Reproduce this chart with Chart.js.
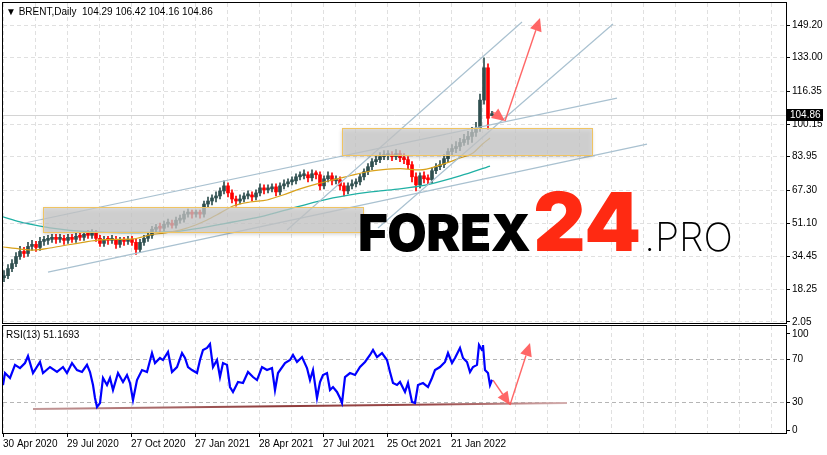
<!DOCTYPE html>
<html>
<head>
<meta charset="utf-8">
<script src="https://cdn.jsdelivr.net/npm/chart.js@4.4.0/dist/chart.umd.min.js"></script>
<style>
html,body{margin:0;padding:0;background:#fff;width:827px;height:455px;overflow:hidden;}
#wrap{position:relative;width:827px;height:455px;}
#main{position:absolute;left:0;top:0;}
#rsi{position:absolute;left:0;top:324px;}
.lbl{position:absolute;font-family:"Liberation Sans",Arial,sans-serif;font-size:10px;color:#000;white-space:pre;line-height:12px;}
#logo{position:absolute;left:358px;top:182px;display:flex;align-items:baseline;line-height:1;white-space:nowrap;}
#logo span{font-family:Inter,Lato,"Noto Sans",sans-serif;}
</style>
</head>
<body>
<div id="wrap">
  <canvas id="main" width="827" height="326" style="width:827px;height:326px"></canvas>
  <canvas id="rsi" width="827" height="131" style="width:827px;height:131px"></canvas>
  <div class="lbl" id="hdr" style="left:6px;top:6px"></div>
  <div class="lbl" id="rsiLbl" style="left:6px;top:329px"></div>
  <div id="logo">
    <span style="font-weight:900;font-size:51px;color:#000;letter-spacing:-0.5px">FOREX</span>
    <span style="font-weight:900;font-size:81px;color:#ff2a12;margin-left:3px">24</span>
    <span style="font-weight:200;font-size:39px;color:#000;margin-left:3px">.PRO</span>
  </div>
</div>
<script>
// ---------------- DATA ----------------
const symbolName = 'BRENT,Daily';
const dateLabels = ['30 Apr 2020','29 Jul 2020','27 Oct 2020','27 Jan 2021','28 Apr 2021','27 Jul 2021','25 Oct 2021','21 Jan 2022'];
const priceTicks = [2.05,18.25,34.45,51.10,67.30,83.95,100.15,116.35,133.00,149.20];
const rsiTickLabels = ['0','30','70','100'];

// candles (each candle = 4 trading days)
const opens = [24.0,25.0,28.5,31.0,34.5,37.0,36.0,39.5,40.5,39.0,
42.0,42.5,43.0,44.0,43.0,43.5,42.5,44.0,43.0,44.5,
44.0,45.5,45.0,46.0,43.5,41.0,43.0,42.5,43.0,40.5,
42.5,42.0,43.0,41.5,38.0,41.5,43.5,45.0,48.0,49.0,
48.5,50.5,51.0,50.0,52.5,53.0,55.5,56.0,55.5,56.0,
55.5,60.5,62.0,63.5,64.5,67.0,69.5,66.0,63.0,62.0,
63.0,64.5,65.0,64.0,66.0,68.5,67.5,68.0,69.0,66.5,
69.5,70.5,71.5,72.0,74.0,74.5,75.0,73.5,75.5,75.0,
69.5,73.0,74.5,72.0,72.5,69.5,67.0,69.5,70.5,71.5,
74.0,76.5,79.0,81.5,82.5,84.0,84.5,85.0,84.0,85.5,
83.5,82.5,80.0,74.0,70.0,74.5,73.0,72.5,77.0,79.0,
80.0,83.0,86.5,88.0,89.0,91.0,92.5,94.0,96.0,98.0,
112.0,128.0,104.29];
const highs = [27.5,30.5,33.0,36.5,39.5,39.0,41.5,42.5,42.0,44.0,
44.5,45.0,45.5,45.5,45.5,45.0,45.5,45.5,46.0,46.0,
47.0,47.5,47.8,47.5,45.0,44.5,44.5,45.0,44.5,44.0,
44.0,44.5,44.5,43.0,43.0,45.0,46.5,49.5,50.5,51.0,
52.0,53.0,52.5,54.0,55.0,57.0,58.0,57.5,57.5,57.5,
62.0,64.0,65.0,66.5,68.5,72.0,71.0,67.5,64.5,65.0,
66.0,67.0,66.5,67.5,70.5,70.0,70.0,70.5,70.5,71.0,
72.5,73.0,74.0,75.5,76.5,77.5,76.5,77.5,77.0,76.5,
74.5,76.5,76.0,74.5,74.0,71.0,71.0,72.5,73.0,75.5,
78.0,80.5,83.0,84.5,86.0,87.0,87.0,86.5,87.5,87.0,
85.5,84.0,81.5,76.0,76.0,76.5,75.0,78.5,80.5,82.0,
85.0,88.0,90.0,91.5,93.0,95.0,96.5,98.5,101.0,115.0,
133.0,130.0,106.42];
const lows = [22.0,23.5,27.0,29.5,33.0,34.0,34.5,37.5,37.0,37.5,
40.0,40.5,41.5,41.0,41.5,40.5,41.0,41.5,41.5,42.5,
42.5,43.5,43.5,42.0,39.5,39.5,40.5,41.0,38.5,39.0,
40.0,40.5,40.0,35.5,36.5,40.0,42.0,43.5,46.5,46.5,
47.0,49.0,48.5,48.5,51.0,51.5,54.0,53.5,54.0,53.5,
54.0,59.0,60.0,61.5,63.0,65.5,64.0,61.0,59.5,60.5,
61.5,63.0,62.0,62.5,64.5,65.5,66.0,66.5,64.5,65.0,
68.0,69.0,70.0,70.5,72.5,73.0,71.5,72.0,73.0,67.5,
68.0,71.5,70.0,70.5,67.5,64.5,65.5,68.0,69.0,70.0,
72.5,75.0,77.5,80.0,81.0,82.5,82.5,82.0,82.5,81.5,
80.5,78.0,71.5,67.0,68.5,71.0,70.5,71.0,75.5,77.5,
78.5,81.5,85.0,86.0,87.0,89.5,90.0,91.0,94.0,96.5,
110.0,97.5,104.16];
const closes = [25.0,28.5,31.0,34.5,37.0,36.0,39.5,40.5,39.0,42.0,
42.5,43.0,44.0,43.0,43.5,42.5,44.0,43.0,44.5,44.0,
45.5,45.0,46.0,43.5,41.0,43.0,42.5,43.0,40.5,42.5,
42.0,43.0,41.5,38.0,41.5,43.5,45.0,48.0,49.0,48.5,
50.5,51.0,50.0,52.5,53.0,55.5,56.0,55.5,56.0,55.5,
60.5,62.0,63.5,64.5,67.0,69.5,66.0,63.0,62.0,63.0,
64.5,65.0,64.0,66.0,68.5,67.5,68.0,69.0,66.5,69.5,
70.5,71.5,72.0,74.0,74.5,75.0,73.5,75.5,75.0,69.5,
73.0,74.5,72.0,72.5,69.5,67.0,69.5,70.5,71.5,74.0,
76.5,79.0,81.5,82.5,84.0,84.5,85.0,84.0,85.5,83.5,
82.5,80.0,74.0,70.0,74.5,73.0,72.5,77.0,79.0,80.0,
83.0,86.5,88.0,89.0,91.0,92.5,94.0,96.0,98.0,112.0,
128.0,103.0,104.86];

// moving averages (day index, value)
const fastMaIdx = [0,17,30,47,64,80,97,114,130,147,162,177,192,204,217,230,247,264,280,297,314,330,347,364,380,397,417,437,457,470,479,487];
const fastMaVal = [39.2,38.2,37.7,38.7,40.2,41.5,42.7,43.0,43.2,45.2,46.2,47.6,50.0,52.6,56.0,59.5,61.5,62.5,65.0,68.0,70.5,72.5,74.5,76.5,77.5,78.0,77.4,79.8,83.3,85.8,90.0,93.2];
const slowMaIdx = [0,17,37,57,77,97,127,157,177,197,230,257,297,330,364,377,397,427,457,487];
const slowMaVal = [54.1,51.6,49.6,48.1,47.1,46.6,46.4,46.6,47.1,48.6,51.6,54.1,59.5,63.5,66.3,67.0,68.0,70.4,74.4,79.3];

// RSI(13) (day index, value)
const rsiIdx = [0,2,7,12,17,22,25,30,37,40,47,54,60,64,69,74,79,84,87,90,
92,94,97,100,104,107,110,115,120,124,127,130,134,139,144,149,152,157,160,165,
169,174,179,182,185,189,194,197,200,204,207,210,214,217,220,224,227,230,235,240,
245,250,254,259,264,269,272,275,282,287,290,294,299,304,307,310,314,317,320,324,
327,330,334,337,339,342,347,352,357,362,367,370,374,379,384,387,390,394,397,402,
405,409,412,415,420,425,429,432,437,442,445,449,452,457,460,464,467,470,474,476,
479,480,482,485,487,489];
const rsiVal = [46.3,57.4,52.8,65,62,66.7,73.3,57.4,67.7,57.4,63,58.4,63,57.4,66.7,60.2,58.4,65,58.4,46.3,
34.2,25.8,29.5,52.8,46.3,52.8,41.6,57.4,49.1,55.6,48.1,32.3,50.9,60.2,58.4,76,66.7,71.4,69.5,77,
58.4,63,76,71.4,63,60.2,57.4,69.5,78.8,80.7,84.4,63,69.5,53.7,66.7,65,44.4,39.8,49.1,48.1,
58.4,53.7,50.9,63,60.2,62.1,41.6,57.4,66.7,69.5,74.2,67.7,72.3,62.1,50.9,60.2,34.2,49.1,55.6,57.4,
41.6,44.4,39.8,34.2,29.5,53.7,57.4,55.6,63,67.7,74.2,78.8,72.3,76,69.5,58.4,48.1,46.3,49.1,39.8,
48.1,30.5,29.5,46.3,48.1,44.4,52.8,60.2,63,67.7,76,66.7,71.4,80.7,71.4,67.7,58.4,63,65,83.5,
78.8,83.5,60.2,57.4,46.3,51.1693];

// drawn objects (in day index / price or RSI units)
const trendLines = [[17,50.6,614,113.0],[45,26.8,644,90.2],[284,47.6,519,150.7],[375,48.6,610,149.7]];
const zones = [[40,59.0,360,46.65],[339,98.2,589,84.8]];
const priceArrows = [[490,106.1,502,101.6],[502,101.6,537,152.7]];
const rsiArrows = [[490,50.9,507,27.7],[507,27.7,527,85.3]];
const rsiSupport = [30,24.0,564,29.5];

// ---------------- LAYOUT / STYLE ----------------
const DAYS_PER_CANDLE = 4;
const X_MAX = 783;
const GRID_STEP = 32, LABEL_STEP = 64;
const PRICE_MIN = 1.55, PRICE_MAX = 160.11;
const RSI_MIN = 1.63, RSI_MAX = 101.16;
const rsiTickPos = [4.42, 30, 70, 93.72];
const gridValues = Array.from({length: Math.floor(X_MAX / GRID_STEP) + 1}, (_, i) => i * GRID_STEP);
const UP = '#2f4f4f', DOWN = '#ff0000';
const GRID = '#e0e0e0';
const ARROW = 'rgba(255,85,85,0.9)';

Chart.defaults.font.family = '"Liberation Sans", Arial, sans-serif';
Chart.defaults.font.size = 10;
Chart.defaults.color = '#000';

const last = closes.length - 1;
document.getElementById('hdr').textContent = '\u25BC ' + symbolName + '  ' +
  [opens[last], highs[last], lows[last], closes[last]].map(v => v.toFixed(2)).join(' ');
document.getElementById('rsiLbl').textContent = 'RSI(13) ' + rsiVal[rsiVal.length - 1].toFixed(4);

const candleX = closes.map((_, i) => i * DAYS_PER_CANDLE + 1);
const candleColors = closes.map((c, i) => c >= opens[i] ? UP : DOWN);

function zeroPad(s) { s.paddingLeft = 0; s.paddingRight = 0; s.paddingTop = 0; s.paddingBottom = 0; }

function drawArrow(ctx, x1, y1, x2, y2, color) {
  const a = Math.atan2(y2 - y1, x2 - x1), hl = 13, hw = 6;
  const bx = x2 - hl * Math.cos(a), by = y2 - hl * Math.sin(a);
  ctx.save();
  ctx.strokeStyle = color; ctx.fillStyle = color; ctx.lineWidth = 1.4;
  ctx.beginPath(); ctx.moveTo(x1, y1); ctx.lineTo(bx, by); ctx.stroke();
  ctx.beginPath(); ctx.moveTo(x2, y2);
  ctx.lineTo(bx + hw * Math.sin(a), by - hw * Math.cos(a));
  ctx.lineTo(bx - hw * Math.sin(a), by + hw * Math.cos(a));
  ctx.closePath(); ctx.fill();
  ctx.restore();
}
function frame(chart) {
  const {ctx, chartArea: ca} = chart;
  ctx.save(); ctx.strokeStyle = '#000'; ctx.lineWidth = 1;
  ctx.strokeRect(ca.left - 0.5, ca.top - 0.5, ca.right - ca.left + 1, ca.bottom - ca.top + 1);
  ctx.restore();
}

const mainPlugin = {
  id: 'mainDeco',
  beforeDatasetsDraw(chart) {
    const {ctx, chartArea: ca, scales: {y}} = chart;
    const py = Math.round(y.getPixelForValue(closes[last])) + 0.5;
    ctx.save(); ctx.strokeStyle = '#d4d4d4'; ctx.lineWidth = 1;
    ctx.beginPath(); ctx.moveTo(ca.left, py); ctx.lineTo(ca.right, py); ctx.stroke(); ctx.restore();
  },
  afterDatasetsDraw(chart) {
    const {ctx, scales: {x, y}} = chart;
    zones.forEach(z => {
      const l = x.getPixelForValue(z[0]), r = x.getPixelForValue(z[2]);
      const t = y.getPixelForValue(z[1]), b = y.getPixelForValue(z[3]);
      ctx.save();
      ctx.shadowColor = 'rgba(0,0,0,0.28)'; ctx.shadowBlur = 4; ctx.shadowOffsetY = 2;
      ctx.fillStyle = 'rgba(206,206,206,0.72)';
      ctx.fillRect(l, t, r - l, b - t);
      ctx.shadowColor = 'transparent';
      ctx.strokeStyle = '#f0c462'; ctx.lineWidth = 1;
      ctx.strokeRect(Math.round(l) + 0.5, Math.round(t) + 0.5, Math.round(r - l), Math.round(b - t));
      ctx.restore();
    });
  },
  afterDraw(chart) {
    const {ctx, chartArea: ca, scales: {x, y}} = chart;
    priceArrows.forEach(a => drawArrow(ctx, x.getPixelForValue(a[0]), y.getPixelForValue(a[1]),
      x.getPixelForValue(a[2]), y.getPixelForValue(a[3]), ARROW));
    frame(chart);
    const py = Math.round(y.getPixelForValue(closes[last]));
    ctx.save();
    ctx.fillStyle = '#000'; ctx.fillRect(ca.right + 1, py - 6, 36, 12);
    ctx.fillStyle = '#fff'; ctx.font = '10px "Liberation Sans", Arial, sans-serif';
    ctx.textBaseline = 'middle'; ctx.textAlign = 'left';
    ctx.fillText(closes[last].toFixed(2), ca.right + 4, py);
    ctx.restore();
  }
};

new Chart(document.getElementById('main'), {
  type: 'bar',
  data: {
    datasets: [
      ...trendLines.map(t => ({
        type: 'line', data: [{x: t[0], y: t[1]}, {x: t[2], y: t[3]}],
        borderColor: '#a9c1d0', borderWidth: 1.2, pointRadius: 0, order: 1
      })),
      {type: 'line', data: fastMaIdx.map((v, i) => ({x: v, y: fastMaVal[i]})),
       borderColor: '#d9a21b', borderWidth: 1.2, pointRadius: 0, cubicInterpolationMode: 'monotone', order: 2},
      {type: 'line', data: slowMaIdx.map((v, i) => ({x: v, y: slowMaVal[i]})),
       borderColor: '#1fb0a4', borderWidth: 1.3, pointRadius: 0, cubicInterpolationMode: 'monotone', order: 2},
      {type: 'bar', data: closes.map((c, i) => ({x: candleX[i], y: [opens[i], c]})),
       backgroundColor: candleColors, barThickness: 3, grouped: false, minBarLength: 2, order: 3},
      {type: 'bar', data: closes.map((c, i) => ({x: candleX[i], y: [lows[i], highs[i]]})),
       backgroundColor: candleColors, barThickness: 1, grouped: false, order: 4}
    ]
  },
  options: {
    responsive: false, animation: false,
    layout: {padding: {left: 3, top: 3, right: 0, bottom: 3}},
    plugins: {legend: {display: false}, tooltip: {enabled: false}},
    scales: {
      x: {
        type: 'linear', min: 0, max: X_MAX, offset: false,
        afterBuildTicks: s => { s.ticks = gridValues.map(v => ({value: v})); },
        ticks: {display: false},
        grid: {offset: false, color: GRID, drawTicks: false},
        border: {display: false, dash: [4, 3]},
        afterFit: s => { s.height = 0; zeroPad(s); }
      },
      y: {
        type: 'linear', position: 'right', min: PRICE_MIN, max: PRICE_MAX,
        afterBuildTicks: s => { s.ticks = priceTicks.map(v => ({value: v})); },
        ticks: {callback: v => Number(v).toFixed(2), padding: 2, autoSkip: false, color: '#000'},
        grid: {color: GRID, tickColor: '#000', tickLength: 4, tickBorderDash: []},
        border: {display: false, dash: [4, 3]},
        afterFit: s => { s.width = 41; zeroPad(s); }
      }
    }
  },
  plugins: [mainPlugin]
});

const rsiPlugin = {
  id: 'rsiDeco',
  afterDraw(chart) {
    const {ctx, scales: {x, y}} = chart;
    rsiArrows.forEach(a => drawArrow(ctx, x.getPixelForValue(a[0]), y.getPixelForValue(a[1]),
      x.getPixelForValue(a[2]), y.getPixelForValue(a[3]), ARROW));
    frame(chart);
  }
};

function supportGradient(c) {
  const chart = c.chart; const ca = chart.chartArea;
  if (!ca) return '#8b3a3a';
  const x = chart.scales.x;
  const g = chart.ctx.createLinearGradient(x.getPixelForValue(rsiSupport[0]), 0, x.getPixelForValue(rsiSupport[2]), 0);
  g.addColorStop(0, '#c49a9a'); g.addColorStop(0.45, '#8e3a3a'); g.addColorStop(0.75, '#9a4a4a'); g.addColorStop(1, '#d4afaf');
  return g;
}

new Chart(document.getElementById('rsi'), {
  type: 'line',
  data: {
    datasets: [
      {data: rsiIdx.map((v, i) => ({x: v, y: rsiVal[i]})), borderColor: '#0000ff', borderWidth: 2.2,
       pointRadius: 0, tension: 0, order: 1},
      {data: [{x: rsiSupport[0], y: rsiSupport[1]}, {x: rsiSupport[2], y: rsiSupport[3]}],
       borderColor: supportGradient, borderWidth: 2, pointRadius: 0, order: 2}
    ]
  },
  options: {
    responsive: false, animation: false,
    layout: {padding: {left: 3, top: 2, right: 0, bottom: 0}},
    plugins: {legend: {display: false}, tooltip: {enabled: false}},
    scales: {
      x: {
        type: 'linear', min: 0, max: X_MAX, offset: false,
        afterBuildTicks: s => { s.ticks = gridValues.map(v => ({value: v})); },
        ticks: {
          autoSkip: false, maxRotation: 0, align: 'start', padding: 1, color: '#000',
          callback: v => (v % LABEL_STEP === 0 && v / LABEL_STEP < dateLabels.length) ? dateLabels[v / LABEL_STEP] : ''
        },
        grid: {
          color: GRID, tickLength: 4, tickBorderDash: [],
          tickColor: c => (c.tick && c.tick.value % LABEL_STEP === 0 && c.tick.value / LABEL_STEP < dateLabels.length) ? '#000' : 'rgba(0,0,0,0)'
        },
        border: {display: false, dash: [4, 3]},
        afterFit: s => { s.height = 22; zeroPad(s); }
      },
      y: {
        type: 'linear', position: 'right', min: RSI_MIN, max: RSI_MAX,
        afterBuildTicks: s => { s.ticks = rsiTickPos.map(v => ({value: v})); },
        ticks: {callback: (v, i) => rsiTickLabels[i], padding: 2, autoSkip: false, color: '#000'},
        grid: {
          color: c => (c.tick && (c.tick.value === 30 || c.tick.value === 70)) ? '#b5b5b5' : 'rgba(0,0,0,0)',
          tickColor: '#000', tickLength: 4, tickBorderDash: []
        },
        border: {display: false, dash: [4, 3]},
        afterFit: s => { s.width = 41; zeroPad(s); }
      }
    }
  },
  plugins: [rsiPlugin]
});
</script>
</body>
</html>
